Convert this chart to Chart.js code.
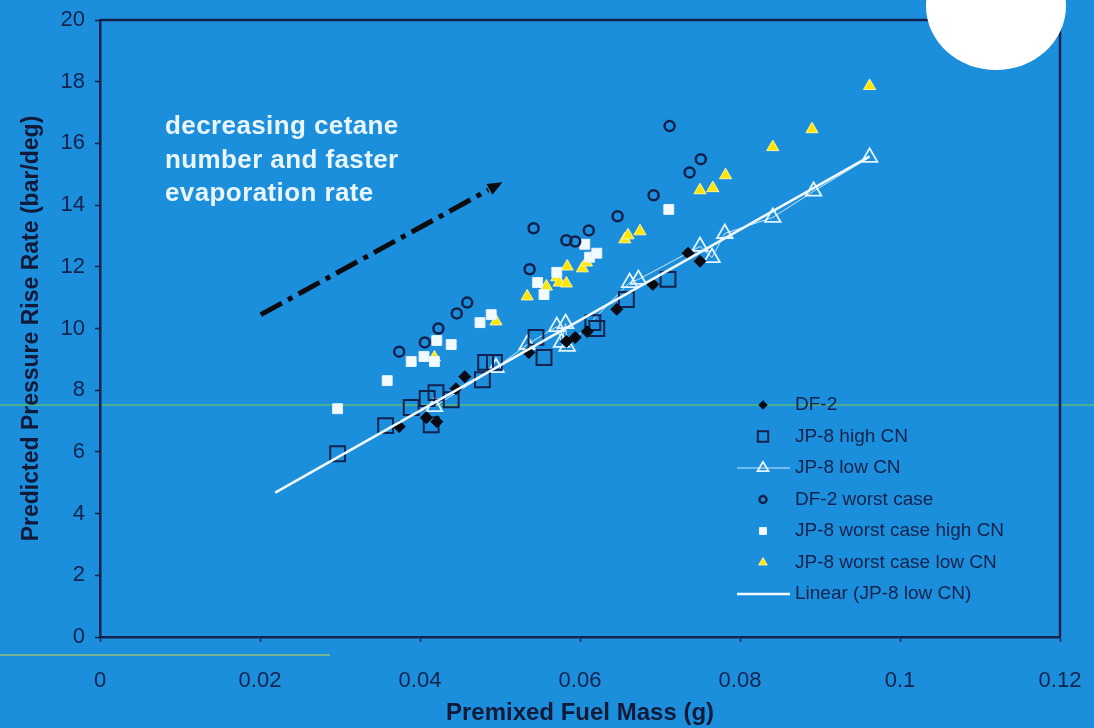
<!DOCTYPE html>
<html>
<head>
<meta charset="utf-8">
<script src="https://cdn.jsdelivr.net/npm/chart.js@4/dist/chart.umd.min.js"></script>
<style>
    html, body { margin: 0; padding: 0; background: #1b8edc; }
    #wrap { width: 1094px; height: 728px; }
</style>
</head>
<body>
<div id="wrap"><canvas id="pressure-chart" width="1094" height="728"></canvas></div>
<script>
// values
const df2X = [0.0374, 0.0408, 0.0421, 0.0445, 0.0456, 0.0536, 0.0583, 0.0594, 0.0609, 0.0646, 0.0691, 0.0735, 0.0750];
const df2Y = [6.82, 7.11, 6.98, 8.05, 8.44, 9.22, 9.58, 9.71, 9.90, 10.62, 11.43, 12.44, 12.18];

const jp8HighX = [0.0297, 0.0357, 0.0389, 0.0409, 0.0414, 0.0420, 0.0439, 0.0478, 0.0482, 0.0493, 0.0545, 0.0555, 0.0616, 0.0621, 0.0658, 0.0710];
const jp8HighY = [5.94, 6.85, 7.44, 7.73, 6.88, 7.92, 7.69, 8.34, 8.90, 8.90, 9.71, 9.06, 10.19, 10.00, 10.94, 11.59];

const jp8LowX = [0.0418, 0.0495, 0.0534, 0.0571, 0.0577, 0.0582, 0.0584, 0.0662, 0.0673, 0.0750, 0.0765, 0.0781, 0.0841, 0.0892, 0.0962];
const jp8LowY = [7.47, 8.73, 9.48, 10.06, 9.55, 10.16, 9.42, 11.49, 11.59, 12.66, 12.30, 13.08, 13.60, 14.45, 15.55];

const df2WorstX = [0.0374, 0.0406, 0.0423, 0.0446, 0.0459, 0.0537, 0.0542, 0.0583, 0.0594, 0.0611, 0.0647, 0.0692, 0.0712, 0.0737, 0.0751];
const df2WorstY = [9.25, 9.55, 10.00, 10.49, 10.84, 11.92, 13.25, 12.86, 12.82, 13.18, 13.64, 14.32, 16.56, 15.06, 15.49];

const jp8WorstHighX = [0.0297, 0.0359, 0.0389, 0.0405, 0.0418, 0.0421, 0.0439, 0.0475, 0.0489, 0.0547, 0.0555, 0.0571, 0.0606, 0.0612, 0.0621, 0.0711];
const jp8WorstHighY = [7.40, 8.31, 8.93, 9.09, 8.93, 9.61, 9.48, 10.19, 10.45, 11.49, 11.10, 11.82, 12.73, 12.31, 12.44, 13.86];

const jp8WorstLowX = [0.0418, 0.0495, 0.0534, 0.0558, 0.0571, 0.0574, 0.0583, 0.0584, 0.0603, 0.0608, 0.0656, 0.0660, 0.0675, 0.0750, 0.0766, 0.0782, 0.0841, 0.0890, 0.0962];
const jp8WorstLowY = [9.06, 10.23, 11.04, 11.36, 11.66, 11.49, 11.46, 12.01, 11.95, 12.14, 12.89, 13.02, 13.15, 14.48, 14.55, 14.97, 15.88, 16.46, 17.86];

const trendX = [0.0219, 0.0962];
const trendY = [4.68, 15.58];

const arrowX = [0.0201, 0.0503];
const arrowY = [10.45, 14.74];

const noteLines = ["decreasing cetane", "number and faster", "evaporation rate"];

const xTicks = [0, 0.02, 0.04, 0.06, 0.08, 0.1, 0.12];
const yTicks = [0, 2, 4, 6, 8, 10, 12, 14, 16, 18, 20];

const bgColor = '#1b8edc';
const navy = '#14234d';
const fontFamily = '"Liberation Sans", Arial, sans-serif';

function toPoints(xs, ys) {
    return xs.map((x, i) => ({ x: x, y: ys[i] }));
}

// sort by x so the connecting line runs left to right
function sortedPoints(xs, ys) {
    return toPoints(xs, ys).sort((a, b) => a.x - b.x);
}

const datasets = [
    {
        label: 'DF-2',
        data: toPoints(df2X, df2Y),
        pointStyle: 'rectRot',
        pointRadius: 6,
        backgroundColor: '#0a0a12',
        borderColor: '#0a0a12',
        borderWidth: 1
    },
    {
        label: 'JP-8 high CN',
        data: toPoints(jp8HighX, jp8HighY),
        pointStyle: 'rect',
        pointRadius: 10.5,
        backgroundColor: 'rgba(0,0,0,0)',
        borderColor: navy,
        borderWidth: 2
    },
    {
        label: 'JP-8 low CN',
        data: sortedPoints(jp8LowX, jp8LowY),
        showLine: true,
        pointStyle: 'triangle',
        pointRadius: 9,
        backgroundColor: 'rgba(0,0,0,0)',
        borderColor: '#cbe8ff',
        borderWidth: 1,
        pointBorderColor: '#e2f4ff',
        pointBorderWidth: 1.8
    },
    {
        label: 'DF-2 worst case',
        data: toPoints(df2WorstX, df2WorstY),
        pointStyle: 'circle',
        pointRadius: 5,
        backgroundColor: 'rgba(0,0,0,0)',
        borderColor: '#13214a',
        borderWidth: 2.5
    },
    {
        label: 'JP-8 worst case high CN',
        data: toPoints(jp8WorstHighX, jp8WorstHighY),
        pointStyle: 'rect',
        pointRadius: 7,
        backgroundColor: '#f3faff',
        borderColor: '#e4f3ff',
        borderWidth: 1
    },
    {
        label: 'JP-8 worst case low CN',
        data: toPoints(jp8WorstLowX, jp8WorstLowY),
        pointStyle: 'triangle',
        pointRadius: 7,
        backgroundColor: '#ffe600',
        borderColor: '#fff3a0',
        borderWidth: 1
    },
    {
        label: 'Linear (JP-8 low CN)',
        data: toPoints(trendX, trendY),
        showLine: true,
        pointRadius: 0,
        borderColor: '#f2f9ff',
        borderWidth: 2.5,
        order: -1
    }
];

function drawMarker(ctx, style, x, y, r) {
    ctx.beginPath();
    if (style === 'rect') {
        const s = r * Math.SQRT1_2;
        ctx.rect(x - s, y - s, 2 * s, 2 * s);
    } else if (style === 'rectRot') {
        ctx.moveTo(x, y - r);
        ctx.lineTo(x + r, y);
        ctx.lineTo(x, y + r);
        ctx.lineTo(x - r, y);
        ctx.closePath();
    } else if (style === 'triangle') {
        ctx.moveTo(x, y - r);
        ctx.lineTo(x + r * 0.866, y + r * 0.5);
        ctx.lineTo(x - r * 0.866, y + r * 0.5);
        ctx.closePath();
    } else {
        ctx.arc(x, y, r, 0, Math.PI * 2);
    }
    ctx.fill();
    ctx.stroke();
}

const backdrop = {
    id: 'backdrop',
    beforeDraw(chart) {
        const ctx = chart.ctx;
        ctx.save();
        ctx.fillStyle = bgColor;
        ctx.fillRect(0, 0, chart.width, chart.height);
        // greenish scan streaks
        ctx.strokeStyle = 'rgba(90,185,120,0.75)';
        ctx.lineWidth = 2;
        ctx.beginPath();
        ctx.moveTo(0, 405);
        ctx.lineTo(chart.width, 405);
        ctx.stroke();
        ctx.strokeStyle = 'rgba(150,200,110,0.7)';
        ctx.beginPath();
        ctx.moveTo(0, 655);
        ctx.lineTo(330, 655);
        ctx.stroke();
        ctx.restore();
    }
};

const extras = {
    id: 'extras',
    afterDatasetsDraw(chart) {
        const ctx = chart.ctx;
        const area = chart.chartArea;
        const xs = chart.scales.x;
        const ys = chart.scales.y;
        ctx.save();

        // top and right frame
        ctx.strokeStyle = navy;
        ctx.lineWidth = 2.5;
        ctx.beginPath();
        ctx.moveTo(area.left, area.top);
        ctx.lineTo(area.right, area.top);
        ctx.lineTo(area.right, area.bottom);
        ctx.stroke();

        // dash-dot arrow
        const x0 = xs.getPixelForValue(arrowX[0]);
        const y0 = ys.getPixelForValue(arrowY[0]);
        const x1 = xs.getPixelForValue(arrowX[1]);
        const y1 = ys.getPixelForValue(arrowY[1]);
        const ang = Math.atan2(y1 - y0, x1 - x0);
        const head = 16;
        ctx.strokeStyle = '#0b0b10';
        ctx.fillStyle = '#0b0b10';
        ctx.lineWidth = 5;
        ctx.setLineDash([24, 7, 5, 7]);
        ctx.beginPath();
        ctx.moveTo(x0, y0);
        ctx.lineTo(x1 - Math.cos(ang) * head, y1 - Math.sin(ang) * head);
        ctx.stroke();
        ctx.setLineDash([]);
        ctx.beginPath();
        ctx.moveTo(x1, y1);
        ctx.lineTo(x1 - Math.cos(ang - 0.4) * head, y1 - Math.sin(ang - 0.4) * head);
        ctx.lineTo(x1 - Math.cos(ang + 0.4) * head, y1 - Math.sin(ang + 0.4) * head);
        ctx.closePath();
        ctx.fill();

        // note text
        ctx.fillStyle = '#eaf6ff';
        ctx.font = 'bold 26px ' + fontFamily;
        ctx.textBaseline = 'middle';
        ctx.textAlign = 'left';
        if ('letterSpacing' in ctx) ctx.letterSpacing = '0.4px';
        noteLines.forEach((line, i) => {
            ctx.fillText(line, area.left + 65, area.top + 107 + i * 33.5);
        });
        if ('letterSpacing' in ctx) ctx.letterSpacing = '0px';

        // legend inside the plot
        const lx = area.right - 297;
        const ly = area.top + 385;
        ctx.font = '19px ' + fontFamily;
        chart.data.datasets.forEach((ds, i) => {
            const y = ly + i * 31.5;
            if (ds.showLine) {
                ctx.strokeStyle = ds.borderColor;
                ctx.lineWidth = ds.borderWidth;
                ctx.beginPath();
                ctx.moveTo(lx - 26, y);
                ctx.lineTo(lx + 27, y);
                ctx.stroke();
            }
            if (ds.pointRadius > 0) {
                ctx.fillStyle = ds.backgroundColor;
                ctx.strokeStyle = ds.pointBorderColor || ds.borderColor;
                ctx.lineWidth = ds.pointBorderWidth || ds.borderWidth;
                drawMarker(ctx, ds.pointStyle, lx, y, ds.pointRadius * 0.7);
            }
            ctx.fillStyle = navy;
            ctx.fillText(ds.label, lx + 32, y);
        });
        ctx.restore();
    },
    afterDraw(chart) {
        // white blot at the top right
        const ctx = chart.ctx;
        ctx.save();
        ctx.fillStyle = '#ffffff';
        ctx.beginPath();
        ctx.ellipse(996, 6, 70, 64, 0, 0, Math.PI * 2);
        ctx.fill();
        ctx.restore();
    }
};

const pressureCanvas = document.getElementById('pressure-chart').getContext('2d');

let pressureChart = new Chart(pressureCanvas, {
    type: 'scatter',
    data: { datasets: datasets },
    options: {
        responsive: false,
        animation: false,
        devicePixelRatio: 1,
        layout: { padding: { top: 20, right: 34, left: 0, bottom: 0 } },
        plugins: {
            legend: { display: false },
            tooltip: { enabled: false }
        },
        scales: {
            x: {
                type: 'linear',
                min: xTicks[0],
                max: xTicks[xTicks.length - 1],
                afterBuildTicks: s => { s.ticks = xTicks.map(v => ({ value: v })); },
                afterFit: s => { s.height = 91; s.paddingLeft = 0; s.paddingRight = 0; },
                ticks: {
                    color: navy,
                    font: { family: fontFamily, size: 22 },
                    padding: 26,
                    maxRotation: 0,
                    callback: v => String(+v.toFixed(3))
                },
                grid: { drawOnChartArea: false, color: navy, tickLength: 5, tickWidth: 1.5 },
                border: { color: navy, width: 2.5 },
                title: {
                    display: true,
                    text: 'Premixed Fuel Mass (g)',
                    color: '#111a38',
                    font: { family: fontFamily, size: 24, weight: 'bold' },
                    padding: { top: 0, bottom: 0 }
                }
            },
            y: {
                min: yTicks[0],
                max: yTicks[yTicks.length - 1],
                afterBuildTicks: s => { s.ticks = yTicks.map(v => ({ value: v })); },
                afterFit: s => { s.width = 100; s.paddingTop = 0; s.paddingBottom = 0; },
                ticks: {
                    color: navy,
                    font: { family: fontFamily, size: 22 },
                    padding: 10
                },
                grid: { drawOnChartArea: false, color: navy, tickLength: 5, tickWidth: 1.5 },
                border: { color: navy, width: 2.5 },
                title: {
                    display: true,
                    text: 'Predicted Pressure Rise Rate (bar/deg)',
                    color: '#111a38',
                    font: { family: fontFamily, size: 23, weight: 'bold' },
                    padding: { top: 18, bottom: 0 }
                }
            }
        }
    },
    plugins: [backdrop, extras]
});
</script>
</body>
</html>
